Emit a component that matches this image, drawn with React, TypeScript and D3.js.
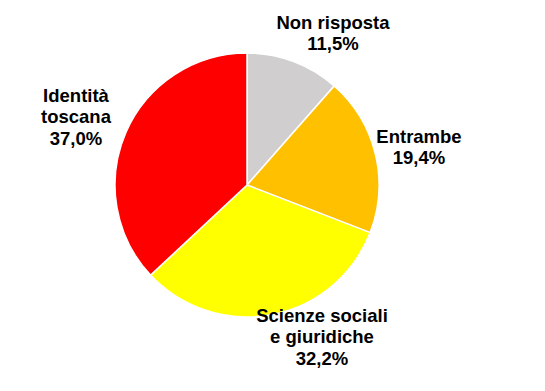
import React, { useEffect, useRef } from 'react';
import * as d3 from 'd3';

const categories = ['Non risposta', 'Entrambe', 'Scienze sociali e giuridiche', 'Identità toscana'];
const values = [11.5, 19.4, 32.2, 37.0];
const colors = ['#D0CECE', '#FFC000', '#FFFF00', '#FF0000'];
// label lines per slice (last line is the percentage)
const labelLines = [
  ['Non risposta'],
  ['Entrambe'],
  ['Scienze sociali', 'e giuridiche'],
  ['Identità', 'toscana'],
];
// label anchor points (center of the text block), in chart coords
const labelPos: [number, number][] = [
  [333, 33],
  [419, 147],
  [322, 337],
  [76, 117],
];

const App: React.FC = () => {
  const svgRef = useRef<SVGSVGElement>(null);

  useEffect(() => {
    if (!svgRef.current) return;
    const svg = d3.select(svgRef.current);
    svg.selectAll('*').remove();

    const width = 545;
    const height = 391;
    const cx = 247;
    const cy = 185;
    const radius = 132;

    svg.attr('width', width).attr('height', height);

    const data = categories.map((c, i) => ({ name: c, value: values[i], i }));

    const pie = d3.pie<typeof data[number]>().sort(null).value(d => d.value);
    const arc = d3.arc<d3.PieArcDatum<typeof data[number]>>().innerRadius(0).outerRadius(radius);

    const g = svg.append('g').attr('transform', `translate(${cx},${cy})`);

    g.selectAll('path')
      .data(pie(data))
      .enter()
      .append('path')
      .attr('d', arc)
      .attr('fill', d => colors[d.data.i])
      .attr('stroke', '#fff')
      .attr('stroke-width', 1.5);

    // Labels
    data.forEach((d, i) => {
      const lines = [...labelLines[i], d3.format('.1f')(d.value).replace('.', ',') + '%'];
      const lh = 21.5;
      const [lx, ly] = labelPos[i];
      const t = svg.append('text')
        .attr('text-anchor', 'middle')
        .style('font-family', '"Liberation Sans", Arial, sans-serif')
        .style('font-weight', 'bold')
        .style('font-size', '18.5px')
        .style('fill', '#000');
      lines.forEach((line, j) => {
        t.append('tspan')
          .attr('x', lx)
          .attr('y', ly + (j - (lines.length - 1) / 2) * lh)
          .attr('dy', '0.35em')
          .text(line);
      });
    });
  }, []);

  return (
    <div style={{ margin: -8 }}>
      <svg ref={svgRef} style={{ display: 'block' }}></svg>
    </div>
  );
};

export default App;
